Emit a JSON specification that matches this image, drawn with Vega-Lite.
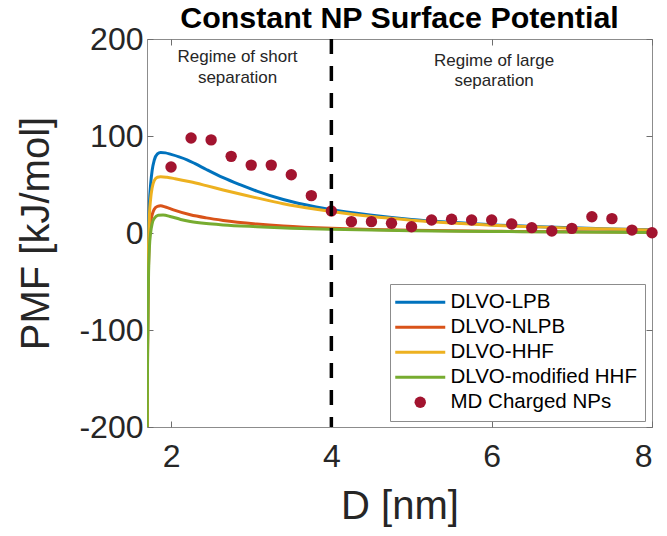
{
  "$schema": "https://vega.github.io/schema/vega-lite/v6.json",
  "width": 505,
  "height": 388,
  "autosize": {"type": "none"},
  "padding": {"left": 147, "top": 39, "right": 15, "bottom": 109},
  "background": "white",
  "title": {
    "text": "Constant NP Surface Potential",
    "font": "Liberation Sans",
    "fontSize": 30.4,
    "fontWeight": "bold",
    "color": "#000000",
    "anchor": "middle",
    "baseline": "alphabetic",
    "offset": 11,
    "dy": 46
  },
  "config": {
    "font": "Liberation Sans",
    "view": {"stroke": "#8c8c8c", "strokeWidth": 1},
    "axis": {
      "grid": false,
      "domain": false,
      "tickColor": "#6e6e6e",
      "tickSize": -6,
      "labelColor": "#262626",
      "labelFont": "Liberation Sans",
      "labelFontSize": 32,
      "labelExpr": "'' + datum.value",
      "titleFont": "Liberation Sans",
      "titleFontSize": 40,
      "titleFontWeight": "normal",
      "titleColor": "#262626"
    }
  },
  "datasets": {
    "theory": [
      {"series": "DLVO-LPB", "D": 1.702, "PMF": -200},
      {"series": "DLVO-LPB", "D": 1.706, "PMF": -120},
      {"series": "DLVO-LPB", "D": 1.712, "PMF": -50},
      {"series": "DLVO-LPB", "D": 1.72, "PMF": 0},
      {"series": "DLVO-LPB", "D": 1.73, "PMF": 30},
      {"series": "DLVO-LPB", "D": 1.745, "PMF": 50},
      {"series": "DLVO-LPB", "D": 1.765, "PMF": 65},
      {"series": "DLVO-LPB", "D": 1.79, "PMF": 75},
      {"series": "DLVO-LPB", "D": 1.83, "PMF": 81.5},
      {"series": "DLVO-LPB", "D": 1.87, "PMF": 83},
      {"series": "DLVO-LPB", "D": 1.93, "PMF": 82.6},
      {"series": "DLVO-LPB", "D": 2.0, "PMF": 81},
      {"series": "DLVO-LPB", "D": 2.1, "PMF": 78.5},
      {"series": "DLVO-LPB", "D": 2.2, "PMF": 75.5},
      {"series": "DLVO-LPB", "D": 2.3, "PMF": 71.5},
      {"series": "DLVO-LPB", "D": 2.44, "PMF": 65.5},
      {"series": "DLVO-LPB", "D": 2.65, "PMF": 57},
      {"series": "DLVO-LPB", "D": 2.86, "PMF": 49.8},
      {"series": "DLVO-LPB", "D": 3.07, "PMF": 43.2},
      {"series": "DLVO-LPB", "D": 3.4, "PMF": 34.5},
      {"series": "DLVO-LPB", "D": 3.81, "PMF": 26.8},
      {"series": "DLVO-LPB", "D": 4.0, "PMF": 24},
      {"series": "DLVO-LPB", "D": 4.48, "PMF": 18.6},
      {"series": "DLVO-LPB", "D": 5.0, "PMF": 14},
      {"series": "DLVO-LPB", "D": 5.5, "PMF": 11},
      {"series": "DLVO-LPB", "D": 6.0, "PMF": 8.5},
      {"series": "DLVO-LPB", "D": 6.5, "PMF": 6.8},
      {"series": "DLVO-LPB", "D": 7.0, "PMF": 5.3},
      {"series": "DLVO-LPB", "D": 7.5, "PMF": 4.2},
      {"series": "DLVO-LPB", "D": 8.0, "PMF": 3.3},

      {"series": "DLVO-NLPB", "D": 1.702, "PMF": -200},
      {"series": "DLVO-NLPB", "D": 1.707, "PMF": -125},
      {"series": "DLVO-NLPB", "D": 1.713, "PMF": -65},
      {"series": "DLVO-NLPB", "D": 1.72, "PMF": -30},
      {"series": "DLVO-NLPB", "D": 1.73, "PMF": -5},
      {"series": "DLVO-NLPB", "D": 1.745, "PMF": 10},
      {"series": "DLVO-NLPB", "D": 1.765, "PMF": 19},
      {"series": "DLVO-NLPB", "D": 1.79, "PMF": 24.5},
      {"series": "DLVO-NLPB", "D": 1.83, "PMF": 27.5},
      {"series": "DLVO-NLPB", "D": 1.87, "PMF": 28},
      {"series": "DLVO-NLPB", "D": 1.93, "PMF": 26.8},
      {"series": "DLVO-NLPB", "D": 2.03, "PMF": 23.8},
      {"series": "DLVO-NLPB", "D": 2.24, "PMF": 18.8},
      {"series": "DLVO-NLPB", "D": 2.44, "PMF": 15.6},
      {"series": "DLVO-NLPB", "D": 2.65, "PMF": 13},
      {"series": "DLVO-NLPB", "D": 3.07, "PMF": 9.3},
      {"series": "DLVO-NLPB", "D": 3.4, "PMF": 7.2},
      {"series": "DLVO-NLPB", "D": 4.0, "PMF": 4.8},
      {"series": "DLVO-NLPB", "D": 4.5, "PMF": 3.6},
      {"series": "DLVO-NLPB", "D": 5.0, "PMF": 2.8},
      {"series": "DLVO-NLPB", "D": 6.0, "PMF": 1.8},
      {"series": "DLVO-NLPB", "D": 7.0, "PMF": 1.2},
      {"series": "DLVO-NLPB", "D": 8.0, "PMF": 0.8},

      {"series": "DLVO-HHF", "D": 1.702, "PMF": -200},
      {"series": "DLVO-HHF", "D": 1.706, "PMF": -125},
      {"series": "DLVO-HHF", "D": 1.712, "PMF": -55},
      {"series": "DLVO-HHF", "D": 1.72, "PMF": -10},
      {"series": "DLVO-HHF", "D": 1.73, "PMF": 18},
      {"series": "DLVO-HHF", "D": 1.745, "PMF": 35},
      {"series": "DLVO-HHF", "D": 1.765, "PMF": 47},
      {"series": "DLVO-HHF", "D": 1.79, "PMF": 54},
      {"series": "DLVO-HHF", "D": 1.83, "PMF": 57.5},
      {"series": "DLVO-HHF", "D": 1.87, "PMF": 58},
      {"series": "DLVO-HHF", "D": 1.95, "PMF": 57.4},
      {"series": "DLVO-HHF", "D": 2.05, "PMF": 56},
      {"series": "DLVO-HHF", "D": 2.24, "PMF": 52.8},
      {"series": "DLVO-HHF", "D": 2.44, "PMF": 48.8},
      {"series": "DLVO-HHF", "D": 2.65, "PMF": 44.4},
      {"series": "DLVO-HHF", "D": 2.86, "PMF": 40.2},
      {"series": "DLVO-HHF", "D": 3.07, "PMF": 36.2},
      {"series": "DLVO-HHF", "D": 3.4, "PMF": 30.2},
      {"series": "DLVO-HHF", "D": 3.81, "PMF": 24.5},
      {"series": "DLVO-HHF", "D": 4.0, "PMF": 22.2},
      {"series": "DLVO-HHF", "D": 4.48, "PMF": 17.2},
      {"series": "DLVO-HHF", "D": 5.0, "PMF": 13.2},
      {"series": "DLVO-HHF", "D": 5.5, "PMF": 10.2},
      {"series": "DLVO-HHF", "D": 6.0, "PMF": 8},
      {"series": "DLVO-HHF", "D": 6.5, "PMF": 6.5},
      {"series": "DLVO-HHF", "D": 7.0, "PMF": 5},
      {"series": "DLVO-HHF", "D": 7.5, "PMF": 4},
      {"series": "DLVO-HHF", "D": 8.0, "PMF": 3},

      {"series": "DLVO-modified HHF", "D": 1.702, "PMF": -200},
      {"series": "DLVO-modified HHF", "D": 1.707, "PMF": -130},
      {"series": "DLVO-modified HHF", "D": 1.713, "PMF": -75},
      {"series": "DLVO-modified HHF", "D": 1.72, "PMF": -40},
      {"series": "DLVO-modified HHF", "D": 1.73, "PMF": -15},
      {"series": "DLVO-modified HHF", "D": 1.745, "PMF": 0},
      {"series": "DLVO-modified HHF", "D": 1.765, "PMF": 10},
      {"series": "DLVO-modified HHF", "D": 1.79, "PMF": 15},
      {"series": "DLVO-modified HHF", "D": 1.84, "PMF": 18.3},
      {"series": "DLVO-modified HHF", "D": 1.9, "PMF": 18.6},
      {"series": "DLVO-modified HHF", "D": 2.0, "PMF": 16.8},
      {"series": "DLVO-modified HHF", "D": 2.12, "PMF": 14},
      {"series": "DLVO-modified HHF", "D": 2.24, "PMF": 11.9},
      {"series": "DLVO-modified HHF", "D": 2.44, "PMF": 9.7},
      {"series": "DLVO-modified HHF", "D": 2.65, "PMF": 8.3},
      {"series": "DLVO-modified HHF", "D": 3.07, "PMF": 6.5},
      {"series": "DLVO-modified HHF", "D": 3.5, "PMF": 5},
      {"series": "DLVO-modified HHF", "D": 4.0, "PMF": 3.8},
      {"series": "DLVO-modified HHF", "D": 4.5, "PMF": 3},
      {"series": "DLVO-modified HHF", "D": 5.0, "PMF": 2.4},
      {"series": "DLVO-modified HHF", "D": 6.0, "PMF": 1.6},
      {"series": "DLVO-modified HHF", "D": 7.0, "PMF": 1},
      {"series": "DLVO-modified HHF", "D": 8.0, "PMF": 0.5}
    ],
    "md": [
      {"series": "MD Charged NPs", "D": 2.0, "PMF": 68},
      {"series": "MD Charged NPs", "D": 2.25, "PMF": 98},
      {"series": "MD Charged NPs", "D": 2.5, "PMF": 96},
      {"series": "MD Charged NPs", "D": 2.75, "PMF": 79},
      {"series": "MD Charged NPs", "D": 3.0, "PMF": 70},
      {"series": "MD Charged NPs", "D": 3.25, "PMF": 70},
      {"series": "MD Charged NPs", "D": 3.5, "PMF": 60},
      {"series": "MD Charged NPs", "D": 3.75, "PMF": 38.5},
      {"series": "MD Charged NPs", "D": 4.0, "PMF": 22.7},
      {"series": "MD Charged NPs", "D": 4.25, "PMF": 11.7},
      {"series": "MD Charged NPs", "D": 4.5, "PMF": 11.7},
      {"series": "MD Charged NPs", "D": 4.75, "PMF": 10},
      {"series": "MD Charged NPs", "D": 5.0, "PMF": 6.5},
      {"series": "MD Charged NPs", "D": 5.25, "PMF": 13.4},
      {"series": "MD Charged NPs", "D": 5.5, "PMF": 14.1},
      {"series": "MD Charged NPs", "D": 5.75, "PMF": 13.4},
      {"series": "MD Charged NPs", "D": 6.0, "PMF": 13.4},
      {"series": "MD Charged NPs", "D": 6.25, "PMF": 9.3},
      {"series": "MD Charged NPs", "D": 6.5, "PMF": 5.5},
      {"series": "MD Charged NPs", "D": 6.75, "PMF": 2},
      {"series": "MD Charged NPs", "D": 7.0, "PMF": 4.8},
      {"series": "MD Charged NPs", "D": 7.25, "PMF": 16.8},
      {"series": "MD Charged NPs", "D": 7.5, "PMF": 14.8},
      {"series": "MD Charged NPs", "D": 7.75, "PMF": 3},
      {"series": "MD Charged NPs", "D": 8.0, "PMF": 0.3}
    ],
    "boundary": [{"D": 4}],
    "notes": [
      {"label": "Regime of short", "D": 2.83, "PMF": 181},
      {"label": "separation", "D": 2.83, "PMF": 159.5},
      {"label": "Regime of large", "D": 6.03, "PMF": 177.5},
      {"label": "separation", "D": 6.03, "PMF": 157}
    ]
  },
  "resolve": {"axis": {"x": "independent", "y": "independent"}},
  "layer": [
    {
      "data": {"name": "theory"},
      "transform": [{"filter": {"field": "series", "oneOf": ["DLVO-LPB", "DLVO-NLPB"]}}],
      "mark": {"type": "line", "strokeWidth": 3, "interpolate": "monotone", "clip": true},
      "encoding": {
        "x": {
          "field": "D", "type": "quantitative",
          "scale": {"domain": [1.7, 8], "nice": false, "zero": false},
          "axis": {"orient": "bottom", "values": [2, 4, 6, 8], "title": "D [nm]", "labelPadding": 20, "titlePadding": 14}
        },
        "y": {
          "field": "PMF", "type": "quantitative",
          "scale": {"domain": [-200, 200], "nice": false, "zero": false},
          "axis": {"orient": "left", "values": [-200, -100, 0, 100, 200], "title": "PMF [kJ/mol]", "labelPadding": 10, "titlePadding": 22}
        },
        "color": {
          "field": "series", "type": "nominal",
          "scale": {
            "domain": ["DLVO-LPB", "DLVO-NLPB", "DLVO-HHF", "DLVO-modified HHF", "MD Charged NPs"],
            "range": ["#0072BD", "#D95319", "#EDB120", "#77AC30", "#A2142F"]
          },
          "legend": {
            "title": null,
            "orient": "none",
            "legendX": 243,
            "legendY": 245,
            "padding": 8,
            "strokeColor": "#8c8c8c",
            "fillColor": "white",
            "labelFont": "Liberation Sans",
            "labelFontSize": 20.5,
            "labelColor": "#000000",
            "labelLimit": 400,
            "symbolSize": 400,
            "symbolOffset": 12,
            "labelOffset": 20,
            "rowPadding": 4,
            "symbolStrokeWidth": 3,
            "encoding": {
              "symbols": {
                "shape": {"value": {"expr": "datum.value === 'MD Charged NPs' ? 'circle' : 'M-2.5,0H2.5'"}},
                "size": {"value": {"expr": "datum.value === 'MD Charged NPs' ? 130 : 400"}},
                "fill": {"value": {"expr": "datum.value === 'MD Charged NPs' ? '#A2142F' : 'transparent'"}},
                "stroke": {"value": {"expr": "datum.value === 'MD Charged NPs' ? 'transparent' : scale('color', datum.value)"}},
                "strokeWidth": {"value": {"expr": "datum.value === 'MD Charged NPs' ? 0 : 3"}},
                "opacity": {"value": 1}
              }
            }
          }
        }
      }
    },
    {
      "data": {"name": "theory"},
      "transform": [{"filter": {"field": "series", "oneOf": ["DLVO-HHF", "DLVO-modified HHF"]}}],
      "mark": {"type": "line", "strokeWidth": 3, "interpolate": "monotone", "clip": true},
      "encoding": {
        "x": {"field": "D", "type": "quantitative", "scale": {"domain": [1.7, 8], "nice": false, "zero": false}, "axis": null},
        "y": {"field": "PMF", "type": "quantitative", "scale": {"domain": [-200, 200], "nice": false, "zero": false}, "axis": null},
        "color": {"field": "series", "type": "nominal"}
      }
    },
    {
      "data": {"name": "md"},
      "mark": {"type": "circle", "size": 130, "opacity": 1},
      "encoding": {
        "x": {
          "field": "D", "type": "quantitative",
          "scale": {"domain": [1.7, 8], "nice": false, "zero": false},
          "axis": {"orient": "top", "values": [2, 4, 6, 8], "labels": false, "title": null}
        },
        "y": {
          "field": "PMF", "type": "quantitative",
          "scale": {"domain": [-200, 200], "nice": false, "zero": false},
          "axis": {"orient": "right", "values": [-200, -100, 0, 100, 200], "labels": false, "title": null}
        },
        "color": {"field": "series", "type": "nominal"}
      }
    },
    {
      "data": {"name": "boundary"},
      "mark": {"type": "rule", "color": "#000000", "strokeWidth": 3.5, "strokeDash": [15, 12]},
      "encoding": {
        "x": {"field": "D", "type": "quantitative", "scale": {"domain": [1.7, 8], "nice": false, "zero": false}, "axis": null}
      }
    },
    {
      "data": {"name": "notes"},
      "mark": {"type": "text", "font": "Liberation Sans", "fontSize": 17, "color": "#262626", "align": "center", "baseline": "middle"},
      "encoding": {
        "x": {"field": "D", "type": "quantitative", "scale": {"domain": [1.7, 8], "nice": false, "zero": false}, "axis": null},
        "y": {"field": "PMF", "type": "quantitative", "scale": {"domain": [-200, 200], "nice": false, "zero": false}, "axis": null},
        "text": {"field": "label"}
      }
    }
  ]
}
